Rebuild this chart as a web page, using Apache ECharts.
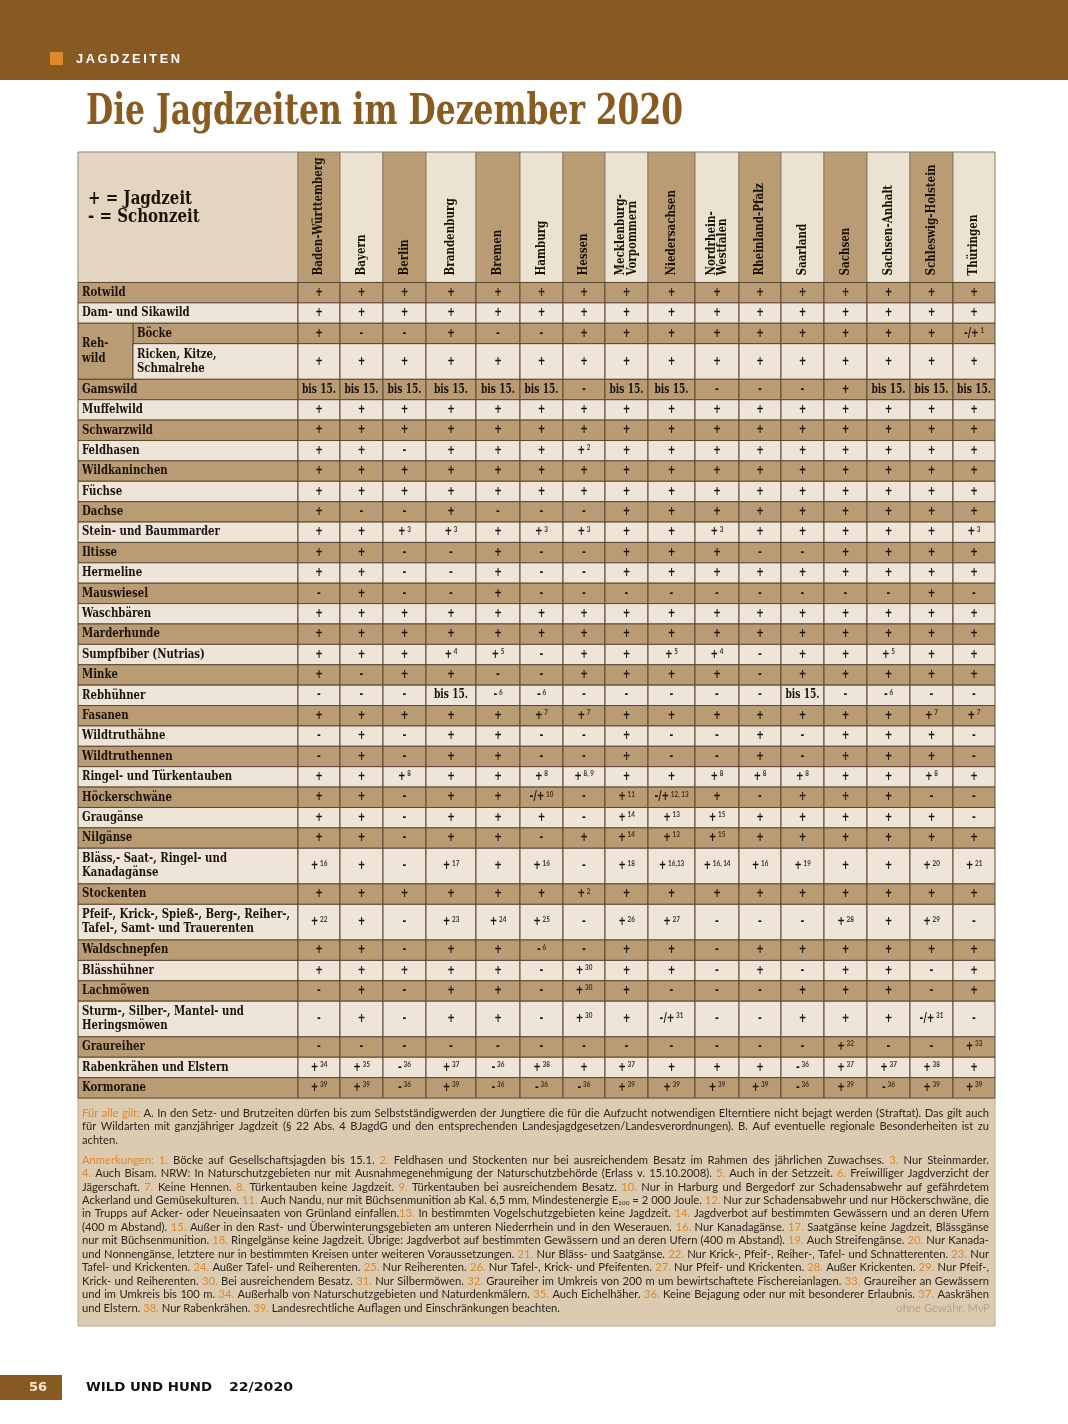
<!DOCTYPE html>
<html><head><meta charset="utf-8">
<script src="https://cdn.jsdelivr.net/npm/echarts@6/dist/echarts.min.js"></script>
<style>html,body{margin:0;padding:0;background:#fff}#c{width:1068px;height:1424px}</style>
</head><body><div id="c"></div>
<script>
// ---------- DATA ----------
const P = '+', M = '-', B = 'bis 15.';
const states = ['Baden-Württemberg','Bayern','Berlin','Brandenburg','Bremen','Hamburg','Hessen','Mecklenburg-\nVorpommern','Niedersachsen','Nordrhein-\nWestfalen','Rheinland-Pfalz','Saarland','Sachsen','Sachsen-Anhalt','Schleswig-Holstein','Thüringen'];

const rotwild        = [P,P,P,P,P,P,P,P,P,P,P,P,P,P,P,P];
const damSika        = [P,P,P,P,P,P,P,P,P,P,P,P,P,P,P,P];
const boecke         = [P,M,M,P,M,M,P,P,P,P,P,P,P,P,P,'-/+^1'];
const ricken         = [P,P,P,P,P,P,P,P,P,P,P,P,P,P,P,P];
const gamswild       = [B,B,B,B,B,B,M,B,B,M,M,M,P,B,B,B];
const muffelwild     = [P,P,P,P,P,P,P,P,P,P,P,P,P,P,P,P];
const schwarzwild    = [P,P,P,P,P,P,P,P,P,P,P,P,P,P,P,P];
const feldhasen      = [P,P,M,P,P,P,'+^2',P,P,P,P,P,P,P,P,P];
const wildkaninchen  = [P,P,P,P,P,P,P,P,P,P,P,P,P,P,P,P];
const fuechse        = [P,P,P,P,P,P,P,P,P,P,P,P,P,P,P,P];
const dachse         = [P,M,M,P,M,M,M,P,P,P,P,P,P,P,P,P];
const marder         = [P,P,'+^3','+^3',P,'+^3','+^3',P,P,'+^3',P,P,P,P,P,'+^3'];
const iltisse        = [P,P,M,M,P,M,M,P,P,P,M,M,P,P,P,P];
const hermeline      = [P,P,M,M,P,M,M,P,P,P,P,P,P,P,P,P];
const mauswiesel     = [M,P,M,M,P,M,M,M,M,M,M,M,M,M,P,M];
const waschbaeren    = [P,P,P,P,P,P,P,P,P,P,P,P,P,P,P,P];
const marderhunde    = [P,P,P,P,P,P,P,P,P,P,P,P,P,P,P,P];
const sumpfbiber     = [P,P,P,'+^4','+^5',M,P,P,'+^5','+^4',M,P,P,'+^5',P,P];
const minke          = [P,M,P,P,M,M,P,P,P,P,M,P,P,P,P,P];
const rebhuehner     = [M,M,M,B,'-^6','-^6',M,M,M,M,M,B,M,'-^6',M,M];
const fasanen        = [P,P,P,P,P,'+^7','+^7',P,P,P,P,P,P,P,'+^7','+^7'];
const truthaehne     = [M,P,M,P,P,M,M,P,M,M,P,M,P,P,P,M];
const truthennen     = [M,P,M,P,P,M,M,P,M,M,P,M,P,P,P,M];
const tauben         = [P,P,'+^8',P,P,'+^8','+^8, 9',P,P,'+^8','+^8','+^8',P,P,'+^8',P];
const hoeckerschwaene= [P,P,M,P,P,'-/+^10',M,'+^11','-/+^12, 13',P,M,P,P,P,M,M];
const graugaense     = [P,P,M,P,P,P,M,'+^14','+^13','+^15',P,P,P,P,P,M];
const nilgaense      = [P,P,M,P,P,M,P,'+^14','+^13','+^15',P,P,P,P,P,P];
const blaessgaense   = ['+^16',P,M,'+^17',P,'+^16',M,'+^18','+^16,13','+^16, 14','+^16','+^19',P,P,'+^20','+^21'];
const stockenten     = [P,P,P,P,P,P,'+^2',P,P,P,P,P,P,P,P,P];
const pfeifenten     = ['+^22',P,M,'+^23','+^24','+^25',M,'+^26','+^27',M,M,M,'+^28',P,'+^29',M];
const waldschnepfen  = [P,P,M,P,P,'-^6',M,P,P,M,P,P,P,P,P,P];
const blaesshuehner  = [P,P,P,P,P,M,'+^30',P,P,M,P,M,P,P,M,P];
const lachmoewen     = [M,P,M,P,P,M,'+^30',P,M,M,M,P,P,P,M,P];
const sturmmoewen    = [M,P,M,P,P,M,'+^30',P,'-/+^31',M,M,P,P,P,'-/+^31',M];
const graureiher     = [M,M,M,M,M,M,M,M,M,M,M,M,'+^32',M,M,'+^33'];
const rabenkraehen   = ['+^34','+^35','-^36','+^37','-^36','+^38',P,'+^37',P,P,P,'-^36','+^37','+^37','+^38',P];
const kormorane      = ['+^39','+^39','-^36','+^39','-^36','-^36','-^36','+^39','+^39','+^39','+^39','-^36','+^39','-^36','+^39','+^39'];

const rowDefs = [
  ['Rotwild', rotwild], ['Dam- und Sikawild', damSika], ['Böcke', boecke],
  ['Ricken, Kitze,\nSchmalrehe', ricken], ['Gamswild', gamswild], ['Muffelwild', muffelwild],
  ['Schwarzwild', schwarzwild], ['Feldhasen', feldhasen], ['Wildkaninchen', wildkaninchen],
  ['Füchse', fuechse], ['Dachse', dachse], ['Stein- und Baummarder', marder],
  ['Iltisse', iltisse], ['Hermeline', hermeline], ['Mauswiesel', mauswiesel],
  ['Waschbären', waschbaeren], ['Marderhunde', marderhunde], ['Sumpfbiber (Nutrias)', sumpfbiber],
  ['Minke', minke], ['Rebhühner', rebhuehner], ['Fasanen', fasanen],
  ['Wildtruthähne', truthaehne], ['Wildtruthennen', truthennen], ['Ringel- und Türkentauben', tauben],
  ['Höckerschwäne', hoeckerschwaene], ['Graugänse', graugaense], ['Nilgänse', nilgaense],
  ['Bläss,- Saat-, Ringel- und\nKanadagänse', blaessgaense], ['Stockenten', stockenten],
  ['Pfeif-, Krick-, Spieß-, Berg-, Reiher-,\nTafel-, Samt- und Trauerenten', pfeifenten],
  ['Waldschnepfen', waldschnepfen], ['Blässhühner', blaesshuehner], ['Lachmöwen', lachmoewen],
  ['Sturm-, Silber-, Mantel- und\nHeringsmöwen', sturmmoewen], ['Graureiher', graureiher],
  ['Rabenkrähen und Elstern', rabenkraehen], ['Kormorane', kormorane]
];
const groupLabel = 'Reh-\nwild';
const groupMembers = ['Böcke', 'Ricken, Kitze,\nSchmalrehe'];
const legendLines = ['+ = Jagdzeit', '- = Schonzeit'];

const noteGeneral = [
  '{o|Für alle gilt:} A. In den Setz- und Brutzeiten dürfen bis zum Selbstständigwerden der Jungtiere die für die Aufzucht notwendigen Elterntiere nicht bejagt werden (Straftat). Das gilt auch',
  'für Wildarten mit ganzjähriger Jagdzeit (§ 22 Abs. 4 BJagdG und den entsprechenden Landesjagdgesetzen/Landesverordnungen). B. Auf eventuelle regionale Besonderheiten ist zu',
  'achten.'
];
const noteRemarks = [
  '{o|Anmerkungen: 1.} Böcke auf Gesellschaftsjagden bis 15.1. {o|2.} Feldhasen und Stockenten nur bei ausreichendem Besatz im Rahmen des jährlichen Zuwachses. {o|3.} Nur Steinmarder.',
  '{o|4.} Auch Bisam. NRW: In Naturschutzgebieten nur mit Ausnahmegenehmigung der Naturschutzbehörde (Erlass v. 15.10.2008). {o|5.} Auch in der Setzzeit. {o|6.} Freiwilliger Jagdverzicht der',
  'Jägerschaft. {o|7.} Keine Hennen. {o|8.} Türkentauben keine Jagdzeit. {o|9.} Türkentauben bei ausreichendem Besatz. {o|10.} Nur in Harburg und Bergedorf zur Schadensabwehr auf gefährdetem',
  'Ackerland und Gemüsekulturen. {o|11.} Auch Nandu, nur mit Büchsenmunition ab Kal. 6,5 mm, Mindestenergie E{u|100} = 2 000 Joule. {o|12.} Nur zur Schadensabwehr und nur Höckerschwäne, die',
  'in Trupps auf Acker- oder Neueinsaaten von Grünland einfallen.{o|13.} In bestimmten Vogelschutzgebieten keine Jagdzeit. {o|14.} Jagdverbot auf bestimmten Gewässern und an deren Ufern',
  '(400 m Abstand). {o|15.} Außer in den Rast- und Überwinterungsgebieten am unteren Niederrhein und in den Weserauen. {o|16.} Nur Kanadagänse. {o|17.} Saatgänse keine Jagdzeit, Blässgänse',
  'nur mit Büchsenmunition. {o|18.} Ringelgänse keine Jagdzeit. Übrige: Jagdverbot auf bestimmten Gewässern und an deren Ufern (400 m Abstand). {o|19.} Auch Streifengänse. {o|20.} Nur Kanada-',
  'und Nonnengänse, letztere nur in bestimmten Kreisen unter weiteren Voraussetzungen. {o|21.} Nur Bläss- und Saatgänse. {o|22.} Nur Krick-, Pfeif-, Reiher-, Tafel- und Schnatterenten. {o|23.} Nur',
  'Tafel- und Krickenten. {o|24.} Außer Tafel- und Reiherenten. {o|25.} Nur Reiherenten. {o|26.} Nur Tafel-, Krick- und Pfeifenten. {o|27.} Nur Pfeif- und Krickenten. {o|28.} Außer Krickenten. {o|29.} Nur Pfeif-,',
  'Krick- und Reiherenten. {o|30.} Bei ausreichendem Besatz. {o|31.} Nur Silbermöwen. {o|32.} Graureiher im Umkreis von 200 m um bewirtschaftete Fischereianlagen. {o|33.} Graureiher an Gewässern',
  'und im Umkreis bis 100 m. {o|34.} Außerhalb von Naturschutzgebieten und Naturdenkmälern. {o|35.} Auch Eichelhäher. {o|36.} Keine Bejagung oder nur mit besonderer Erlaubnis. {o|37.} Aaskrähen',
  'und Elstern. {o|38.} Nur Rabenkrähen. {o|39.} Landesrechtliche Auflagen und Einschränkungen beachten.'
];
const noteCredit = 'ohne Gewähr, MvP';

// ---------- LAYOUT / STYLE ----------
const SLAB = '"DejaVu Serif Condensed", "DejaVu Serif", serif';
const SANS = 'Lato, "Open Sans", sans-serif';
const INK = '#1b130a', DARK = '#b99c73', LIGHT = '#eee5d8', HEAD_LIGHT = '#ece2d1', CORNER = '#e3d5bf', LINE = '#5a4833';
const BROWN = '#875a21', ORANGE = '#d98a2c';
const colWidths = [42,43,43,50,44,43,42,43,47,44,42,43,43,43,43,42];
const LABEL_W = 220, GROUP_W = 55, HEADER_U = 6.4;

const mctx = document.createElement('canvas').getContext('2d');
function textW(str, font) { mctx.font = font; return mctx.measureText(str).width; }

const LABEL_FONT = 'bold 12.5px ' + SLAB;
const labelScale = 208 / textW('Pfeif-, Krick-, Spieß-, Berg-, Reiher-,', LABEL_FONT);
const HEAD_FONT = 'bold 12.5px ' + SLAB;
const headScale = 118 / textW('Baden-Württemberg', HEAD_FONT);
const LEG_FONT = 'bold 19px ' + SLAB;
const legScale = 104 / textW(legendLines[0], LEG_FONT);
const CELL_MAIN = 'bold 12px ' + SLAB;
const cellScale = 34 / textW(B, CELL_MAIN);
const TITLE = 'Die Jagdzeiten im Dezember 2020';
const TITLE_FONT = 'bold 43px ' + SLAB;
const titleScale = 597 / textW(TITLE, TITLE_FONT);
const KICKER = 'J\u2009A\u2009G\u2009D\u2009Z\u2009E\u2009I\u2009T\u2009E\u2009N';
const KICK_FONT = 'bold 12px "Liberation Sans", sans-serif';
const kickScale = 104 / textW(KICKER, KICK_FONT);
const FOOT_FONT = 'bold 13px "DejaVu Sans", sans-serif';

const colStart = []; let xa = 0; colWidths.forEach(w => { colStart.push(xa); xa += w; }); const TOTAL_W = xa;
const rowUnits = rowDefs.map(r => r[0].indexOf('\n') >= 0 ? 1.75 : 1);
const rowStart = []; let ya = 0; rowUnits.forEach(u => { rowStart.push(ya); ya += u; }); const TOTAL_U = ya;
const groupIdx = rowDefs.map((r, i) => groupMembers.indexOf(r[0]) >= 0 ? i : -1).filter(i => i >= 0);

const RICH = {
  m: { font: CELL_MAIN, fill: INK, lineHeight: 14 },
  s: { font: 'bold 7.5px ' + SANS, fill: '#3a2e20', lineHeight: 8, verticalAlign: 'top', padding: [0, 0, 0, 2] }
};
function fmt(v) {
  const parts = v.split('^');
  return parts[1] ? '{m|' + parts[0] + '}{s|' + parts[1] + '}' : '{m|' + parts[0] + '}';
}

const cellList = [];
rowDefs.forEach((r, ri) => r[1].forEach((v, ci) => cellList.push({ row: ri, col: ci, v: v })));

function rectOf(api, x0, y0, x1, y1) {
  const p0 = api.coord([x0, y0]), p1 = api.coord([x1, y1]);
  return { x: p0[0], y: p0[1], width: p1[0] - p0[0], height: p1[1] - p0[1] };
}

// ---------- footnote text (justified, word by word) ----------
const NOTE_SIZE = 11.2;
const NOTE_FONTS = { n: NOTE_SIZE + 'px ' + SANS, o: NOTE_SIZE + 'px ' + SANS, u: '6.5px ' + SANS };
const NOTE_FILLS = { n: '#2b251d', o: ORANGE, u: '#2b251d' };
function parseWords(line) {
  const segs = []; const re = /\{(\w)\|([^}]*)\}|([^{]+)/g; let m;
  while ((m = re.exec(line))) { if (m[1]) segs.push({ t: m[2], s: m[1] }); else segs.push({ t: m[3], s: 'n' }); }
  const words = []; let cur = [];
  segs.forEach(sg => sg.t.split(/( +)/).forEach(p => {
    if (/^ +$/.test(p)) { if (cur.length) { words.push(cur); cur = []; } }
    else if (p) cur.push({ t: p, s: sg.s });
  }));
  if (cur.length) words.push(cur);
  return words;
}
function noteLines(lines, x0, y0, lh, W) {
  const els = [];
  const spaceW = textW(' ', NOTE_FONTS.n);
  lines.forEach((line, li) => {
    const words = parseWords(line);
    const widths = words.map(w => w.reduce((a, sg) => a + textW(sg.t, NOTE_FONTS[sg.s]), 0));
    const total = widths.reduce((a, b) => a + b, 0);
    const last = li === lines.length - 1;
    let gap = last || words.length < 2 ? spaceW : (W - total) / (words.length - 1);
    let sx = 1;
    if (gap < 2) { gap = 2; sx = (W - 2 * (words.length - 1)) / total; }
    let x = x0; const y = y0 + li * lh;
    words.forEach((w, wi) => {
      w.forEach(sg => {
        els.push({ type: 'text', x: x, y: sg.s === 'u' ? y + 3 : y, scaleX: sx, silent: true,
          style: { text: sg.t, font: NOTE_FONTS[sg.s], fill: NOTE_FILLS[sg.s], verticalAlign: 'middle' } });
        x += textW(sg.t, NOTE_FONTS[sg.s]) * sx;
      });
      x += gap;
    });
  });
  return els;
}

const graphics = [
  { type: 'rect', x: 0, y: 0, shape: { width: 1068, height: 80 }, style: { fill: BROWN } },
  { type: 'rect', x: 50, y: 52, shape: { width: 13, height: 13 }, style: { fill: '#e0892c' } },
  { type: 'text', x: 76, y: 59.5, scaleX: kickScale, style: { text: KICKER, fill: '#fff', font: KICK_FONT, verticalAlign: 'middle' } },
  { type: 'text', x: 86, y: 113, scaleX: titleScale, style: { text: TITLE, fill: '#8a5b1f', font: TITLE_FONT, verticalAlign: 'middle' } },
  { type: 'rect', x: 78, y: 1098, shape: { width: 917, height: 228 }, style: { fill: '#dccbb0', stroke: '#b6a893', lineWidth: 1 } },
  { type: 'text', x: 990, y: 1308, style: { text: noteCredit, fill: '#b3a48d', font: NOTE_SIZE + 'px ' + SANS, align: 'right', verticalAlign: 'middle' } },
  { type: 'rect', x: 0, y: 1375, shape: { width: 62, height: 25 }, style: { fill: BROWN } },
  { type: 'text', x: 29, y: 1388, style: { text: '56', fill: '#f5e6cc', font: FOOT_FONT, verticalAlign: 'middle' } },
  { type: 'text', x: 86, y: 1388, scaleX: 126 / textW('WILD UND HUND', FOOT_FONT), style: { text: 'WILD UND HUND', fill: '#111', font: FOOT_FONT, verticalAlign: 'middle' } },
  { type: 'text', x: 229, y: 1388, scaleX: 64 / textW('22/2020', FOOT_FONT), style: { text: '22/2020', fill: '#111', font: FOOT_FONT, verticalAlign: 'middle' } }
].concat(noteLines(noteGeneral, 82, 1113, 13.5, 907), noteLines(noteRemarks, 82, 1160, 13.45, 907));

const option = {
  animation: false,
  grid: { left: 78, top: 152, width: 917, height: 946 },
  xAxis: { type: 'value', min: -LABEL_W, max: TOTAL_W, show: false },
  yAxis: { type: 'value', min: -HEADER_U, max: TOTAL_U, inverse: true, show: false },
  graphic: graphics,
  series: [
    { // header corner with legend
      type: 'custom', silent: true, data: [[-LABEL_W, -HEADER_U]],
      renderItem: function (params, api) {
        const r = rectOf(api, -LABEL_W, -HEADER_U, 0, 0);
        return { type: 'group', children: [
          { type: 'rect', shape: r, style: { fill: CORNER, stroke: '#8f877c', lineWidth: 1 } },
          { type: 'text', x: r.x + 10, y: r.y + 47, scaleX: legScale, style: { x: 0, y: 0, text: legendLines[0], verticalAlign: 'middle', font: LEG_FONT, fill: INK } },
          { type: 'text', x: r.x + 10, y: r.y + 65, scaleX: legScale, style: { x: 0, y: 0, text: legendLines[1], verticalAlign: 'middle', font: LEG_FONT, fill: INK } }
        ] };
      }
    },
    { // state header columns
      type: 'custom', silent: true, data: states.map((s, i) => [colStart[i], -HEADER_U]),
      renderItem: function (params, api) {
        const i = params.dataIndex;
        const r = rectOf(api, colStart[i], -HEADER_U, colStart[i] + colWidths[i], 0);
        return { type: 'group', children: [
          { type: 'rect', shape: r, style: { fill: i % 2 === 0 ? DARK : HEAD_LIGHT, stroke: '#8a7a66', lineWidth: 1 } },
          { type: 'text', x: r.x + r.width / 2, y: r.y + r.height - 7, rotation: Math.PI / 2, scaleX: headScale,
            style: { x: 0, y: 0, text: states[i], align: 'left', verticalAlign: 'middle', font: HEAD_FONT, lineHeight: 11.5, fill: INK } }
        ] };
      }
    },
    { // row labels
      type: 'custom', silent: true, data: rowDefs.map((r, i) => [-LABEL_W, rowStart[i]]),
      renderItem: function (params, api) {
        const i = params.dataIndex;
        const inGroup = groupIdx.indexOf(i) >= 0;
        const x0 = inGroup ? -LABEL_W + GROUP_W : -LABEL_W;
        const r = rectOf(api, x0, rowStart[i], 0, rowStart[i] + rowUnits[i]);
        const children = [
          { type: 'rect', shape: r, style: { fill: i % 2 === 0 ? DARK : LIGHT, stroke: LINE, lineWidth: 1 } },
          { type: 'text', x: r.x + 4, y: r.y + r.height / 2, scaleX: labelScale, style: { x: 0, y: 0, text: rowDefs[i][0], verticalAlign: 'middle', font: LABEL_FONT, lineHeight: 14, fill: INK } }
        ];
        if (i === groupIdx[0]) {
          const last = groupIdx[groupIdx.length - 1];
          const g = rectOf(api, -LABEL_W, rowStart[i], -LABEL_W + GROUP_W, rowStart[last] + rowUnits[last]);
          children.push({ type: 'rect', shape: g, style: { fill: DARK, stroke: LINE, lineWidth: 1 } });
          children.push({ type: 'text', x: g.x + 4, y: g.y + g.height / 2, scaleX: labelScale, style: { x: 0, y: 0, text: groupLabel, verticalAlign: 'middle', font: LABEL_FONT, lineHeight: 15, fill: INK } });
        }
        return { type: 'group', children: children };
      }
    },
    { // value cells
      type: 'custom', silent: true, data: cellList.map(c => [colStart[c.col], rowStart[c.row]]),
      renderItem: function (params, api) {
        const c = cellList[params.dataIndex];
        const r = rectOf(api, colStart[c.col], rowStart[c.row], colStart[c.col] + colWidths[c.col], rowStart[c.row] + rowUnits[c.row]);
        return { type: 'group', children: [
          { type: 'rect', shape: r, style: { fill: c.row % 2 === 0 ? DARK : LIGHT, stroke: LINE, lineWidth: 1 } },
          { type: 'text', x: r.x + r.width / 2, y: r.y + r.height / 2, scaleX: cellScale,
            style: { x: 0, y: 0, text: fmt(c.v), align: 'center', verticalAlign: 'middle', rich: RICH } }
        ] };
      }
    }
  ]
};
echarts.init(document.getElementById('c')).setOption(option);
</script>
</body></html>
